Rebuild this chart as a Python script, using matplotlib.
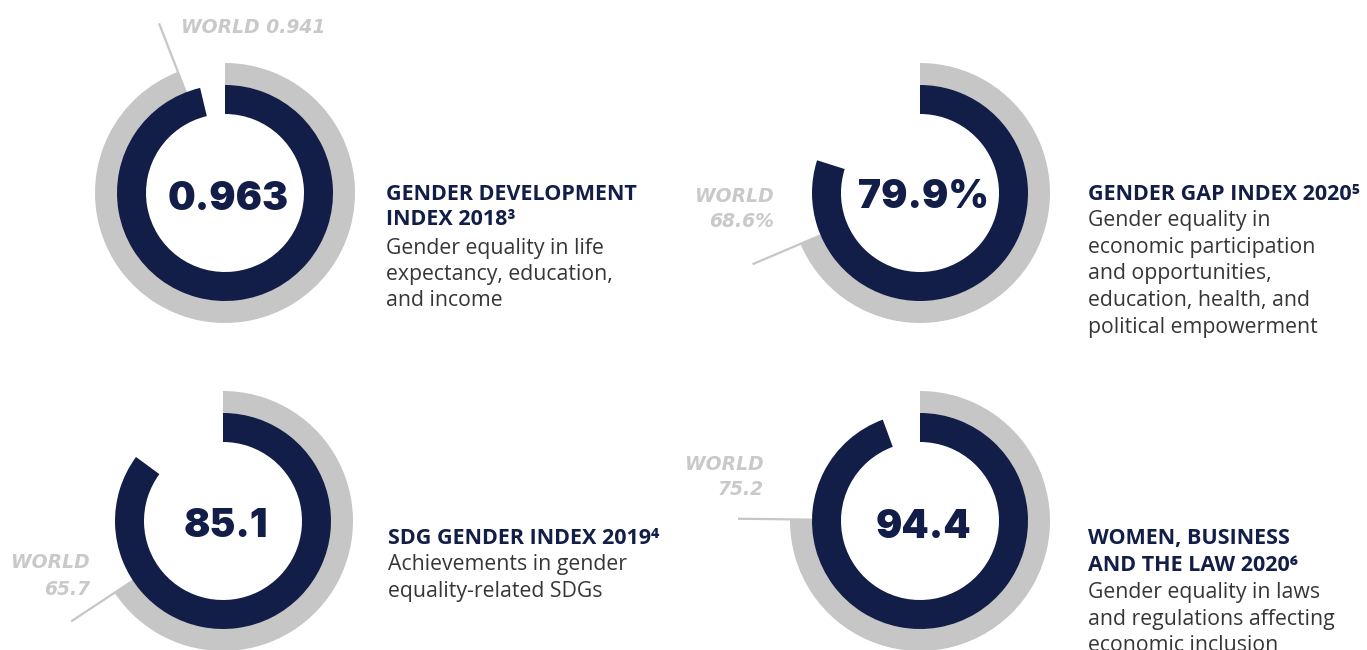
import numpy as np
import matplotlib
matplotlib.use("Agg")
import matplotlib.pyplot as plt

# ---- data ----
index_values = [0.963, 79.9, 85.1, 94.4]
index_max = [1.0, 100.0, 100.0, 100.0]
world_values = [0.941, 68.6, 65.7, 75.2]
value_labels = ["0.963", "79.9%", "85.1", "94.4"]
world_labels = [["WORLD 0.941"], ["WORLD", "68.6%"], ["WORLD", "65.7"], ["WORLD", "75.2"]]
titles = [["GENDER DEVELOPMENT", "INDEX 2018\u00b3"],
          ["GENDER GAP INDEX 2020\u2075"],
          ["SDG GENDER INDEX 2019\u2074"],
          ["WOMEN, BUSINESS", "AND THE LAW 2020\u2076"]]
descriptions = [["Gender equality in life", "expectancy, education,", "and income"],
                ["Gender equality in", "economic participation", "and opportunities,",
                 "education, health, and", "political empowerment"],
                ["Achievements in gender", "equality-related SDGs"],
                ["Gender equality in laws", "and regulations affecting", "economic inclusion"]]

# ---- layout (pixels, y measured from top) ----
W, H = 1367, 650
centers = [(225, 193), (920, 193), (223, 521), (920, 521)]
number_base = [210, 208, 537, 538]
world_pos = [(181, [33], "left"), (774, [202, 227], "right"),
             (90, [568, 595], "right"), (764, [470, 495], "right")]
title_x = [386, 1088, 388, 1088]
title_base = [[200, 225], [200], [544], [544, 571]]
desc_base = [[254, 280, 306], [226, 253, 279, 306, 333], [570, 597], [598, 625, 651]]

NAVY = "#121e47"
GREY = "#c6c6c6"
WGREY = "#c9c9c9"
BODY = "#363636"
R_GREY, R_NAVY, R_IN, R_LINE = 130, 108, 79, 182
FONT = ["Open Sans", "DejaVu Sans"]

fig = plt.figure(figsize=(W / 100, H / 100), dpi=100)
ax = fig.add_axes([0, 0, 1, 1])

def py(y):
    return H - y

for i in range(4):
    cx, cy = centers[i][0], py(centers[i][1])
    v, vmax, w = index_values[i], index_max[i], world_values[i]
    # world ring (grey) under the country ring (navy)
    ax.pie([w, vmax - w], radius=R_GREY, center=(cx, cy), startangle=90, counterclock=False,
           colors=[GREY, "none"], wedgeprops=dict(width=R_GREY - R_IN - 20, linewidth=0))
    ax.pie([v, vmax - v], radius=R_NAVY, center=(cx, cy), startangle=90, counterclock=False,
           colors=[NAVY, "none"], wedgeprops=dict(width=R_NAVY - R_IN, linewidth=0))
    th = np.deg2rad(90 - 360 * w / vmax)
    ax.plot([cx + R_NAVY * np.cos(th), cx + R_LINE * np.cos(th)],
            [cy + R_NAVY * np.sin(th), cy + R_LINE * np.sin(th)],
            color=GREY, lw=1.6, solid_capstyle="butt", zorder=0)
    ax.text(cx + 3, py(number_base[i]), value_labels[i], ha="center", va="baseline",
            fontsize=28, fontweight="black", family=["Inter", "DejaVu Sans"], color=NAVY)
    wx, wys, wha = world_pos[i]
    for txt, yb in zip(world_labels[i], wys):
        ax.text(wx, py(yb), txt, ha=wha, va="baseline", fontsize=13.5, fontweight="bold",
                style="italic", family=["DejaVu Sans"], color=WGREY)
    for txt, yb in zip(titles[i], title_base[i]):
        ax.text(title_x[i], py(yb), txt, ha="left", va="baseline", fontsize=15.5,
                fontweight="bold", family=FONT, color=NAVY)
    for txt, yb in zip(descriptions[i], desc_base[i]):
        ax.text(title_x[i], py(yb), txt, ha="left", va="baseline", fontsize=15.3,
                family=FONT, color=BODY)

ax.set_xlim(0, W)
ax.set_ylim(0, H)
ax.set_aspect("equal")
ax.axis("off")
fig.savefig("out.png", dpi=100, facecolor="white")
